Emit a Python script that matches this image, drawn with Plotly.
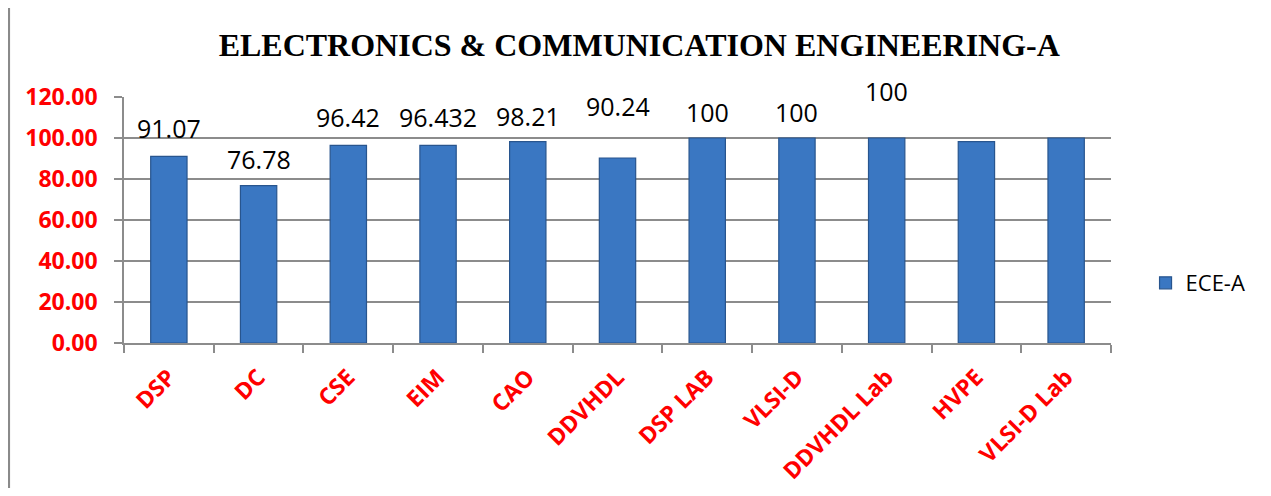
import plotly.graph_objects as go

# Chart data
SUBJECTS = ['DSP', 'DC', 'CSE', 'EIM', 'CAO', 'DDVHDL', 'DSP LAB',
            'VLSI-D', 'DDVHDL Lab', 'HVPE', 'VLSI-D Lab']
ECE_A = [91.07, 76.78, 96.42, 96.432, 98.21, 90.24, 100, 100, 100, 98.21, 100]
# Data labels shown in the source (only the first nine bars carry one)
LABELS = ['91.07', '76.78', '96.42', '96.432', '98.21', '90.24', '100', '100', '100']
Y_TICKS = [0, 20, 40, 60, 80, 100, 120]

# pixel offsets of the data labels above each bar top (manual placements in the source)
LABEL_SHIFT = [28, 27, 28, 28, 26, 52, 26, 26, 47]

GRID = '#8c8c8c'

fig = go.Figure()

fig.add_trace(go.Bar(
    x=SUBJECTS,
    y=ECE_A,
    name='ECE-A',
    marker=dict(color='#3A77C2', line=dict(color='#28558E', width=1.2)),
    hovertemplate='<b>%{x}</b>: %{y}<extra></extra>'
))

# Data labels
for subj, val, txt, shift in zip(SUBJECTS, ECE_A, LABELS, LABEL_SHIFT):
    fig.add_annotation(
        x=subj, y=val, text=txt, showarrow=False,
        yshift=shift, yanchor='middle',
        font=dict(family='Open Sans', size=25, color='#000000')
    )

# Outer chart border (only left and top edges are visible in the source)
fig.add_shape(
    type='rect', xref='paper', yref='paper',
    x0=-0.1167, x1=1.3, y0=-1.0, y1=1.374,
    line=dict(color='#8a8a8a', width=2.5), fillcolor='rgba(0,0,0,0)',
    layer='below'
)

# page has an 8px body margin, so the figure is 16px smaller than the window
fig.update_layout(
    width=1255,
    height=480,
    margin=dict(l=116, r=145, t=89, b=145),
    paper_bgcolor='white',
    plot_bgcolor='white',
    title=dict(
        text='<b>ELECTRONICS &amp; COMMUNICATION ENGINEERING-A</b>',
        font=dict(family='Liberation Serif', size=32, color='#000000'),
        x=0.503, xanchor='center', xref='container',
        y=0.923, yanchor='middle'
    ),
    bargap=0.595,
    showlegend=True,
    legend=dict(
        x=1.035, y=0.244, xanchor='left', yanchor='middle',
        font=dict(family='Open Sans', size=22, color='#000000'),
        itemwidth=30, bgcolor='rgba(0,0,0,0)'
    ),
    xaxis=dict(
        tickangle=-45,
        tickfont=dict(family='Open Sans', size=23, color='#FF0000', weight='bold'),
        showline=True, linecolor=GRID, linewidth=1.5,
        ticks='outside', ticklen=8, tickcolor=GRID, tickwidth=1.5,
        tickson='boundaries',
        ticklabelstandoff=10,
        showgrid=False,
        automargin=False,
    ),
    yaxis=dict(
        range=[0, 120],
        tickvals=Y_TICKS,
        tickformat='.2f',
        tickfont=dict(family='Open Sans', size=23, color='#FF0000', weight='bold'),
        showline=True, linecolor=GRID, linewidth=1.5,
        ticks='outside', ticklen=8, tickcolor=GRID, tickwidth=1.5,
        ticklabelstandoff=12,
        showgrid=True, gridcolor=GRID, gridwidth=1.5,
        zeroline=False,
        automargin=False,
    ),
)

fig.write_html('out.html')
